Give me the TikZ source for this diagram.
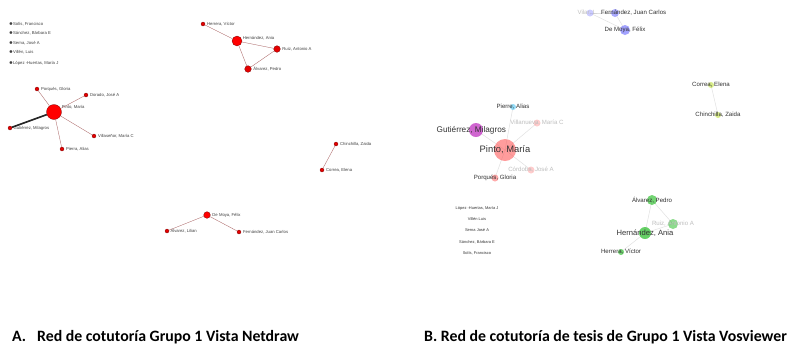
\documentclass[tikz,border=0pt]{standalone}
\usepackage{fontspec}
\setmainfont{Carlito}
\newfontfamily\lblfont{Liberation Sans}
\usetikzlibrary{positioning}
\tikzset{
  adot/.style={circle,fill=red!90!black,draw=red!40!black,line width=0.2pt,inner sep=0pt,minimum size=1.2mm},
  alab/.style={font=\lblfont\fontsize{3.6}{4}\selectfont,text=black!75,inner sep=0.5pt},
  aedge/.style={draw=red!45!black!60,line width=0.3pt},
  bedge/.style={draw=black!12,line width=0.4pt},
  blab/.style={font=\lblfont\fontsize{5.2}{6}\selectfont,text=black!80,inner sep=0pt},
  bfaint/.style={font=\lblfont\fontsize{5.2}{6}\selectfont,text=black!25,inner sep=0pt},
  blist/.style={font=\lblfont\fontsize{3.4}{4}\selectfont,text=black!80,inner sep=0pt},
  captext/.style={font=\bfseries\fontsize{13.5}{15}\selectfont,inner sep=0pt,anchor=west}
}
\begin{document}
\begin{tikzpicture}[x=0.3mm,y=-0.3mm]
				%%%%% frame %%%%%
				\useasboundingbox[fill=white] (0,0) rectangle (801,349);
				\def\radbig{4.5mm}
				\def\radmid{3mm}

				%%%%% A: Netdraw %%%%%
				\foreach \yy/\nm in {24/{Solís, Francisco},33/{Sánchez, Bárbara E},43/{Serna, José A},52/{Villén, Luis},63/{López -Huertas, María J}}
				  \node[alab,anchor=west] at (8,\yy) {$\bullet$\nm};

				\node[adot,minimum size=\radbig,fill=red] (apinto) at (54,112) {};
				\node[alab,anchor=west] at (61,107) {Pinto, María};
				\node[adot] (aporq) at (37,89) {};
				\node[alab,anchor=west,right=1pt of aporq] {Porqués, Gloria};
				\node[adot] (adora) at (86,95) {};
				\node[alab,anchor=west,right=1pt of adora] {Dorado, José A};
				\node[adot] (agut) at (10,128) {};
				\node[alab,anchor=west,right=0.5pt of agut] {Gutiérrez, Milagros};
				\node[adot] (avill) at (94,136) {};
				\node[alab,anchor=west,right=1pt of avill] {Villaseñor, María C};
				\node[adot] (apier) at (62,149) {};
				\node[alab,anchor=west,right=1pt of apier] {Pierra, Alias};
				\draw[aedge] (apinto) -- (aporq);
				\draw[aedge] (apinto) -- (adora);
				\draw[aedge] (apinto) -- (avill);
				\draw[aedge] (apinto) -- (apier);
				\draw[line width=1.4pt,black!85] (apinto) -- (agut);

				\node[adot,minimum size=\radmid,fill=red] (ahern) at (237,41) {};
				\node[alab,anchor=west] at (242,38) {Hernández, Ania};
				\node[adot] (aherr) at (203,24) {};
				\node[alab,anchor=west,right=1pt of aherr] {Herrera, Víctor};
				\node[adot,minimum size=2mm] (aruiz) at (277,49) {};
				\node[alab,anchor=west,right=1pt of aruiz] {Ruiz, Antonio A};
				\node[adot,minimum size=2mm] (aalv) at (248,69) {};
				\node[alab,anchor=west,right=1pt of aalv] {Álvarez, Pedro};
				\draw[aedge] (ahern) -- (aherr);
				\draw[aedge] (ahern) -- (aruiz);
				\draw[aedge] (ahern) -- (aalv);
				\draw[aedge] (aalv) -- (aruiz);

				\node[adot] (achin) at (336,144) {};
				\node[alab,anchor=west,right=1pt of achin] {Chinchilla, Zaida};
				\node[adot] (acorr) at (322,170) {};
				\node[alab,anchor=west,right=1pt of acorr] {Correa, Elena};
				\draw[aedge] (achin) -- (acorr);

				\node[adot,minimum size=2mm,fill=red] (amoya) at (207,215) {};
				\node[alab,anchor=west,right=1pt of amoya] {De Moya, Félix};
				\node[adot] (aliri) at (167,231) {};
				\node[alab,anchor=west,right=0.5pt of aliri] {Álvarez, Lilian};
				\node[adot] (afern) at (239,232) {};
				\node[alab,anchor=west,right=1pt of afern] {Fernández, Juan Carlos};
				\draw[aedge] (amoya) -- (aliri);
				\draw[aedge] (amoya) -- (afern);

				%%%%% B: VOSviewer %%%%%
				\coordinate (bpinto) at (505,150);
				\coordinate (bgut) at (476,130);
				\coordinate (bpier) at (513,107);
				\coordinate (bvill) at (537,123);
				\coordinate (bcord) at (531,170);
				\coordinate (bporq) at (495,178);
				\coordinate (bfern) at (615,13);
				\coordinate (bvila) at (590,13);
				\coordinate (bmoya) at (625,30);
				\coordinate (bcorr) at (711,85);
				\coordinate (bchin) at (718,115);
				\coordinate (balv) at (652,200);
				\coordinate (bruiz) at (673,224);
				\coordinate (bhern) at (645,233);
				\coordinate (bherr) at (621,252);
				\foreach \s/\t in {bpinto/bgut,bpinto/bpier,bpinto/bvill,bpinto/bcord,bpinto/bporq,bfern/bmoya,bvila/bmoya,bvila/bfern,bcorr/bchin,bhern/balv,bhern/bruiz,bhern/bherr,balv/bruiz}
				  \draw[bedge] (\s) -- (\t);

				\fill[red!70,opacity=0.55] (bpinto) circle (11);
				\fill[violet!60!magenta,opacity=0.6] (bgut) circle (7);
				\fill[cyan!70,opacity=0.6] (bpier) circle (3);
				\fill[red!50,opacity=0.4] (bvill) circle (3.5);
				\fill[red!50,opacity=0.4] (bcord) circle (3.5);
				\fill[red!60,opacity=0.55] (bporq) circle (3.5);
				\fill[blue!60,opacity=0.55] (bfern) circle (4);
				\fill[blue!50,opacity=0.4] (bvila) circle (3.5);
				\fill[blue!60,opacity=0.6] (bmoya) circle (5);
				\fill[yellow!70!green,opacity=0.5] (bcorr) circle (3);
				\fill[yellow!70!green,opacity=0.5] (bchin) circle (3);
				\fill[green!70!black,opacity=0.55] (balv) circle (5);
				\fill[green!70!black,opacity=0.45] (bruiz) circle (5);
				\fill[green!70!black,opacity=0.6] (bhern) circle (6);
				\fill[green!70!black,opacity=0.55] (bherr) circle (3);

				\node[blab,font=\lblfont\fontsize{8}{9}\selectfont] at (bpinto) {Pinto, María};
				\node[blab,font=\lblfont\fontsize{7}{8}\selectfont] at ([xshift=-4]bgut) {Gutiérrez, Milagros};
				\node[blab] at (bpier) {Pierre, Alias};
				\node[bfaint] at (bvill) {Villanueva, María C};
				\node[bfaint] at (bcord) {Córdoba, José A};
				\node[blab] at (bporq) {Porqués, Gloria};
				\node[blab,anchor=west] at (601,13) {Fernández, Juan Carlos};
				\node[bfaint,anchor=east] at (598,13) {Vilar, L.};
				\node[blab] at (bmoya) {De Moya, Félix};
				\node[blab] at (bcorr) {Correa, Elena};
				\node[blab] at (bchin) {Chinchilla, Zaida};
				\node[blab] at (balv) {Álvarez, Pedro};
				\node[bfaint] at (bruiz) {Ruiz, Antonio A};
				\node[blab,font=\lblfont\fontsize{6.5}{7}\selectfont] at (bhern) {Hernández, Ania};
				\node[blab] at (bherr) {Herrera, Víctor};

				\foreach \yy/\nm in {208/{López -Huertas, María J},219/{Villén Luis},230/{Serna José A},242/{Sánchez, Bárbara E},253/{Solís, Francisco}}
				  \node[blist] at (477,\yy) {\nm};

				%%%%% captions %%%%%
				\node[captext] (capa) at (12,337) {A.\hspace{0.7em}Red de cotutoría Grupo 1 Vista Netdraw};
				\node[captext] (capb) at (424,337) {B. Red de cotutoría de tesis de Grupo 1 Vista Vosviewer};
\end{tikzpicture}
\end{document}
